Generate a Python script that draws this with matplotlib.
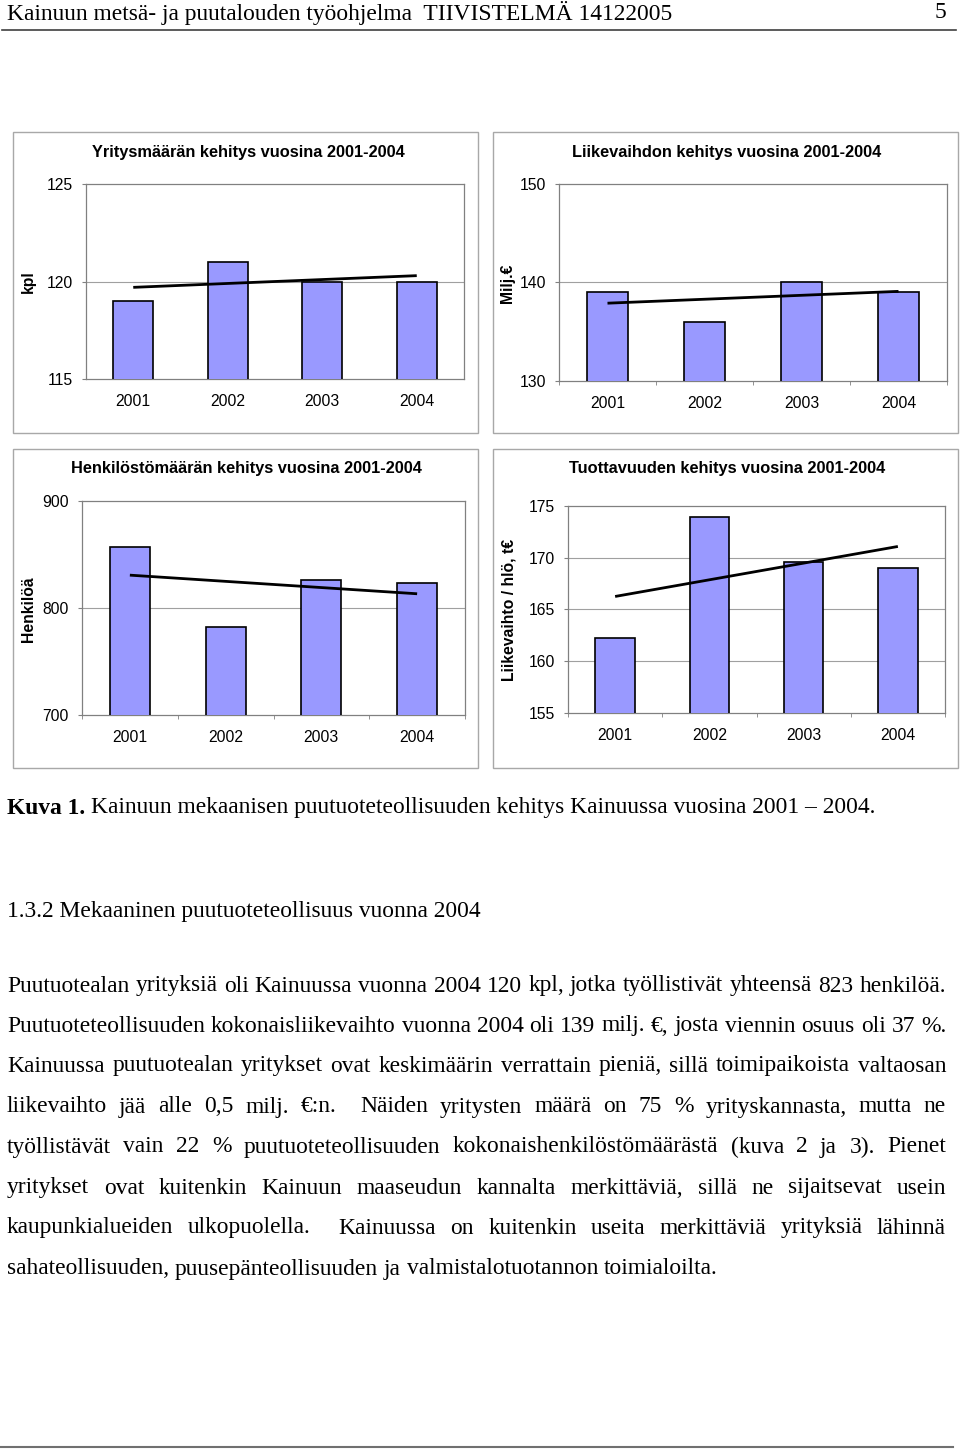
import matplotlib
matplotlib.use('Agg')
import matplotlib.pyplot as plt
from matplotlib.patches import Rectangle
from matplotlib.lines import Line2D
import numpy as np

# ---------------- data ----------------
years = ['2001', '2002', '2003', '2004']
yritykset = [119, 121, 120, 120]          # kpl
liikevaihto = [139, 136, 140, 139]        # Milj.€
henkilosto = [857, 782, 826, 823]         # Henkilöä
tuottavuus = [162.2, 173.9, 169.6, 169.0] # Liikevaihto / hlö, t€

titles = ['Yritysmäärän kehitys vuosina 2001-2004',
          'Liikevaihdon kehitys vuosina 2001-2004',
          'Henkilöstömäärän kehitys vuosina 2001-2004',
          'Tuottavuuden kehitys vuosina 2001-2004']
ylabels = ['kpl', 'Milj.€', 'Henkilöä', 'Liikevaihto / hlö, t€']
yticks_list = [[115, 120, 125], [130, 140, 150], [700, 800, 900],
               [155, 160, 165, 170, 175]]

header_left = 'Kainuun metsä- ja puutalouden työohjelma  TIIVISTELMÄ 14122005'
header_right = '5'
caption_bold = 'Kuva 1.'
caption_rest = 'Kainuun mekaanisen puutuoteteollisuuden kehitys Kainuussa vuosina 2001 – 2004.'
section = '1.3.2 Mekaaninen puutuoteteollisuus vuonna 2004'
paragraph = [
    'Puutuotealan yrityksiä oli Kainuussa vuonna 2004 120 kpl, jotka työllistivät yhteensä 823 henkilöä.',
    'Puutuoteteollisuuden kokonaisliikevaihto vuonna 2004 oli 139 milj. €, josta viennin osuus oli 37 %.',
    'Kainuussa puutuotealan yritykset ovat keskimäärin verrattain pieniä, sillä toimipaikoista valtaosan',
    'liikevaihto jää alle 0,5 milj. €:n.  Näiden yritysten määrä on 75 % yrityskannasta, mutta ne',
    'työllistävät vain 22 % puutuoteteollisuuden kokonaishenkilöstömäärästä (kuva 2 ja 3). Pienet',
    'yritykset ovat kuitenkin Kainuun maaseudun kannalta merkittäviä, sillä ne sijaitsevat usein',
    'kaupunkialueiden ulkopuolella.  Kainuussa on kuitenkin useita merkittäviä yrityksiä lähinnä',
    'sahateollisuuden, puusepänteollisuuden ja valmistalotuotannon toimialoilta.',
]

# ---------------- figure ----------------
W, H = 960, 1451
fig = plt.figure(figsize=(W / 100, H / 100), dpi=100)
fig.patch.set_facecolor('white')
SANS = 'Liberation Sans'
SERIF = 'Liberation Serif'
BAR = '#9999FF'
GRID = '#a0a0a0'
CFS = 11.3   # chart text size
TFS = 11.8   # chart title size


def fx(x):
    return x / W


def fy(y):
    return 1 - y / H


def px_axes(l, t, r, b):
    return fig.add_axes([fx(l), fy(b), (r - l) / W, (b - t) / H])


def frame(l, t, r, b, color='#a8a8a8', lw=1.0):
    fig.add_artist(Rectangle((fx(l), fy(b)), (r - l) / W, (b - t) / H,
                             transform=fig.transFigure, fill=False,
                             edgecolor=color, lw=lw))


def chart(i, values, box_px, plot_px, title_xy, ylabel_xy, xticks_marks=True):
    frame(*box_px)
    ax = px_axes(*plot_px)
    x = np.arange(len(years))
    ax.bar(x, values, width=0.42, color=BAR, edgecolor='black', lw=1.2, zorder=3)
    k, c = np.polyfit(x, values, 1)
    ax.plot(x, k * x + c, color='black', lw=2.0, zorder=4, solid_capstyle='butt')
    yt = yticks_list[i]
    ax.set_ylim(yt[0], yt[-1])
    ax.set_xlim(-0.5, len(years) - 0.5)
    ax.set_yticks(yt)
    ax.set_yticklabels([str(v) for v in yt], fontsize=CFS, family=SANS)
    for v in yt[1:-1]:
        ax.axhline(v, color=GRID, lw=0.8, zorder=1)
    ax.set_xticks(x)
    ax.set_xticklabels(years, fontsize=CFS, family=SANS)
    ax.tick_params(axis='x', length=0, pad=11)
    ax.tick_params(axis='y', length=3, color='#808080', pad=6.5)
    if xticks_marks:
        ax.set_xticks(np.arange(-0.5, len(years), 1.0), minor=True)
        ax.tick_params(axis='x', which='minor', length=3, color='#808080')
    for s in ax.spines.values():
        s.set_color('#808080')
        s.set_linewidth(0.9)
    fig.text(fx(title_xy[0]), fy(title_xy[1]), titles[i], ha='center', va='center',
             fontsize=TFS, fontweight='bold', family=SANS)
    fig.text(fx(ylabel_xy[0]), fy(ylabel_xy[1]), ylabels[i], ha='center', va='center',
             rotation=90, fontsize=CFS, fontweight='bold', family=SANS)
    return ax


chart(0, yritykset, (13, 132, 478, 433), (86, 184, 464, 379), (248, 152), (28, 282),
      xticks_marks=False)
chart(1, liikevaihto, (493, 132, 958, 433), (559, 184, 947, 381), (727, 152), (508, 283))
chart(2, henkilosto, (13, 449, 478, 768), (82, 501, 465, 715), (246, 468), (28, 609))
chart(3, tuottavuus, (493, 449, 958, 768), (568, 506, 945, 713), (727, 468), (509, 610))

# ---------------- page text ----------------
renderer = fig.canvas.get_renderer()
FS = 16.9


def text_width(t):
    return t.get_window_extent(renderer).width


def place_words(line, y, x0, x1, size=FS, justify=True, weight='normal'):
    tokens = line.split(' ')
    words, gaps = [], []
    g = 0
    for tok in tokens:
        if tok == '':
            g += 1
            continue
        if words:
            gaps.append(g + 1)
        words.append(tok)
        g = 0
    texts = [fig.text(0, fy(y), w, fontsize=size, family=SERIF, va='center',
                      fontweight=weight) for w in words]
    widths = [text_width(t) for t in texts]
    natural_space = 0.25 * size * 100 / 72
    if justify and len(words) > 1:
        unit = (x1 - x0 - sum(widths)) / sum(gaps)
    else:
        unit = natural_space
    xpos = x0
    for j, t in enumerate(texts):
        t.set_x(fx(xpos))
        xpos += widths[j]
        if j < len(gaps):
            xpos += unit * gaps[j]
    return xpos


# header
fig.text(fx(7), fy(13), header_left, fontsize=FS, family=SERIF, va='center')
fig.text(fx(946), fy(13), header_right, fontsize=FS, family=SERIF, va='center', ha='right')
fig.add_artist(Line2D([fx(2), fx(956)], [fy(30), fy(30)], transform=fig.transFigure,
                      color='#404040', lw=1.2))

# caption
tb = fig.text(fx(7), fy(808), caption_bold, fontsize=FS, family=SERIF, va='center',
              fontweight='bold')
xb = 7 + text_width(tb) + 0.25 * FS * 100 / 72
fig.text(fx(xb), fy(808), caption_rest, fontsize=FS, family=SERIF, va='center')

# section heading
fig.text(fx(7), fy(912), section, fontsize=FS, family=SERIF, va='center')

# paragraph
line_y = [986, 1026, 1066, 1107, 1147, 1188, 1228, 1269]
for j, (ln, yy) in enumerate(zip(paragraph, line_y)):
    place_words(ln, yy, 7, 946, justify=(j < len(paragraph) - 1))

# bottom rule
fig.add_artist(Line2D([fx(1), fx(953)], [fy(1447), fy(1447)], transform=fig.transFigure,
                      color='#707070', lw=1.5))

fig.savefig('out.png', dpi=100, facecolor='white')
